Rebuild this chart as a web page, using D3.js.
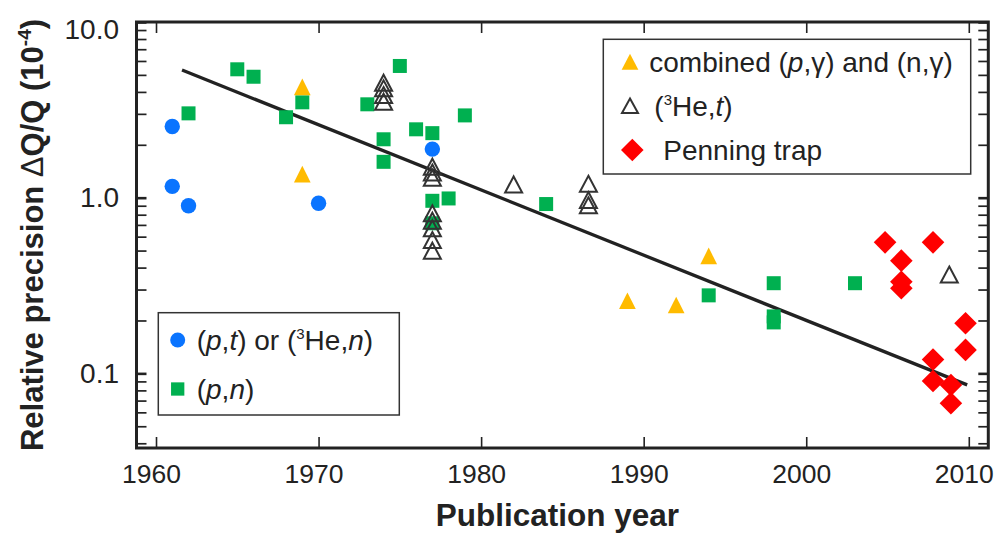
<!DOCTYPE html>
<html><head><meta charset="utf-8">
<script src="https://cdn.jsdelivr.net/npm/d3@7"></script>
<style>
html,body{margin:0;padding:0;background:#fff;}
svg{display:block;font-family:"Liberation Sans",Arial,Helvetica,sans-serif;}
</style></head><body>
<svg id="chart" width="995" height="533"></svg>
<script>
// ---------- data ----------
const xTickValues = [1960, 1970, 1980, 1990, 2000, 2010];
const yLabelValues = [0.1, 1, 10];
const yTickValues = [0.04,0.05,0.06,0.07,0.08,0.09,0.1,0.2,0.3,0.4,0.5,0.6,0.7,0.8,0.9,1,2,3,4,5,6,7,8,9,10];

// (p,t) or (3He,n)
const ptYears  = [1961, 1961, 1962, 1970, 1977];
const ptValues = [2.54, 1.16, 0.90, 0.93, 1.89];

// (p,n)
const pnYears  = [1962, 1965, 1966, 1968, 1969, 1973, 1975, 1974, 1974, 1976, 1977, 1979, 1977, 1978, 1977, 1984, 1994, 1998, 1998, 1998, 2003];
const pnValues = [3.02, 5.38, 4.88, 2.87, 3.49, 3.40, 5.62, 2.15, 1.60, 2.45, 2.33, 2.94, 0.96, 0.99, 0.715, 0.92, 0.278, 0.326, 0.211, 0.195, 0.326];

// combined (p,gamma) and (n,gamma)
const combYears  = [1969, 1969, 1989, 1992, 1994];
const combValues = [4.27, 1.36, 0.259, 0.245, 0.466];

// (3He,t)
const heYears  = [1974, 1974, 1974, 1974, 1977, 1977, 1977, 1977, 1977, 1977, 1977, 1977, 1982, 1986.6, 1986.6, 1986.6, 2008.8];
const heValues = [4.51, 4.19, 3.84, 3.52, 1.50, 1.39, 1.30, 0.815, 0.74, 0.67, 0.574, 0.499, 1.19, 1.20, 0.97, 0.905, 0.365];

// Penning trap
const penYears  = [2004.85, 2005.85, 2005.85, 2005.85, 2007.8, 2007.8, 2007.8, 2008.9, 2008.9, 2009.8, 2009.8];
const penValues = [0.557, 0.438, 0.332, 0.305, 0.557, 0.120, 0.0905, 0.0859, 0.0676, 0.193, 0.136];

// trend line
const trendYears  = [1961.6, 2009.9];
const trendValues = [5.33, 0.086];

// ---------- setup ----------
const svg = d3.select("#chart");
const X0 = 136.5, X1 = 988.3, Y0 = 22, Y1 = 448;
const x = d3.scaleLinear().domain([1958.8, 2011.2]).range([X0, X1]);
const y = d3.scaleLog().domain([0.0376, 10]).range([Y1, Y0]);
const ink = "#222";

const COL_BLUE = "#0a74ff", COL_GREEN = "#00b050", COL_YEL = "#ffbb00", COL_RED = "#ff0000";

const triPath = (w, h) => `M0,${-h/2}L${w/2},${h/2}L${-w/2},${h/2}Z`;
const diaPath = r => `M0,${-r}L${r},0L0,${r}L${-r},0Z`;
const sqPath = s => `M${-s/2},${-s/2}h${s}v${s}h${-s}Z`;

// ---------- axes ----------
function styleAxis(g){
  g.select(".domain").remove();
  g.selectAll(".tick line").attr("stroke", ink);
  g.selectAll(".tick text").attr("fill", ink);
}
const gBottom = svg.append("g").attr("transform",`translate(0,${Y1})`)
  .call(d3.axisBottom(x).tickValues(xTickValues).tickSize(-11).tickPadding(16).tickFormat(d3.format("d")))
  .call(styleAxis);
gBottom.selectAll(".tick line").attr("stroke-width", 1.6);
gBottom.selectAll(".tick text").attr("font-size", 26.5).attr("dx", -5)
  .attr("font-family", "Liberation Sans, Arial, sans-serif");

const gTop = svg.append("g").attr("transform",`translate(0,${Y0})`)
  .call(d3.axisTop(x).tickValues(xTickValues).tickSize(-11).tickFormat(""))
  .call(styleAxis);
gTop.selectAll(".tick line").attr("stroke-width", 1.6);

const fmtY = d => d === 10 ? "10.0" : d === 1 ? "1.0" : d === 0.1 ? "0.1" : "";
const gLeft = svg.append("g").attr("transform",`translate(${X0},0)`)
  .call(d3.axisLeft(y).tickValues(yTickValues).tickSize(-10).tickPadding(17.5).tickFormat(fmtY))
  .call(styleAxis);
gLeft.selectAll(".tick line").attr("stroke-width", d => yLabelValues.includes(d) ? 2.6 : 1.7);
gLeft.selectAll(".tick text").attr("font-size", 28).attr("font-family", "Liberation Sans, Arial, sans-serif");
gLeft.selectAll(".tick text").filter(d => d === 10).attr("y", 8);

const gRight = svg.append("g").attr("transform",`translate(${X1},0)`)
  .call(d3.axisRight(y).tickValues(yTickValues).tickSize(-10).tickFormat(""))
  .call(styleAxis);
gRight.selectAll(".tick line").attr("stroke-width", d => yLabelValues.includes(d) ? 2.6 : 1.7);

// frame
svg.append("rect").attr("x", X0).attr("y", Y0).attr("width", X1 - X0).attr("height", Y1 - Y0)
  .attr("fill", "none").attr("stroke", ink).attr("stroke-width", 3);

// ---------- titles ----------
svg.append("text").attr("x", (X0 + X1)/2 - 5).attr("y", 526).attr("text-anchor", "middle")
  .attr("font-size", 31.5).attr("font-weight", "bold").attr("fill", ink).text("Publication year");

const yt = svg.append("text").attr("transform", `translate(43,${(Y0+Y1)/2}) rotate(-90)`)
  .attr("text-anchor", "middle").attr("font-size", 31).attr("font-weight", "bold").attr("fill", ink);
yt.append("tspan").text("Relative precision ");
yt.append("tspan").attr("font-weight", "normal").text("Δ");
yt.append("tspan").text("Q/Q (10");
yt.append("tspan").attr("font-size", 19).attr("dy", -12).text("-4");
yt.append("tspan").attr("dy", 12).text(")");

// ---------- data marks ----------
const zip = (a, b) => a.map((v, i) => [v, b[i]]);

svg.append("path").datum(zip(trendYears, trendValues))
  .attr("d", d3.line().x(d => x(d[0])).y(d => y(d[1])))
  .attr("fill", "none").attr("stroke", ink).attr("stroke-width", 3.3);

const marks = svg.append("g");
marks.selectAll(".pn").data(zip(pnYears, pnValues)).join("path").attr("class","pn")
  .attr("transform", d => `translate(${x(d[0])},${y(d[1])})`).attr("d", sqPath(14)).attr("fill", COL_GREEN);
marks.selectAll(".comb").data(zip(combYears, combValues)).join("path").attr("class","comb")
  .attr("transform", d => `translate(${x(d[0])},${y(d[1])})`).attr("d", triPath(16.7, 16.7)).attr("fill", COL_YEL);
marks.selectAll(".he").data(zip(heYears, heValues)).join("path").attr("class","he")
  .attr("transform", d => `translate(${x(d[0])},${y(d[1])})`).attr("d", triPath(17, 16))
  .attr("fill", "none").attr("stroke", "#333").attr("stroke-width", 2);
marks.selectAll(".pt").data(zip(ptYears, ptValues)).join("circle").attr("class","pt")
  .attr("cx", d => x(d[0])).attr("cy", d => y(d[1])).attr("r", 7.7).attr("fill", COL_BLUE);
marks.selectAll(".pen").data(zip(penYears, penValues)).join("path").attr("class","pen")
  .attr("transform", d => `translate(${x(d[0])},${y(d[1])})`).attr("d", diaPath(11.3)).attr("fill", COL_RED);

// ---------- legends ----------
const lg1 = svg.append("g");
lg1.append("rect").attr("x", 603.3).attr("y", 39.3).attr("width", 367.4).attr("height", 134.7)
  .attr("fill", "#fff").attr("stroke", "#333").attr("stroke-width", 1.5);
lg1.append("path").attr("transform","translate(630,61.7)").attr("d", triPath(16.7,16)).attr("fill", COL_YEL);
lg1.append("path").attr("transform","translate(630,105.7)").attr("d", triPath(16,14.5))
  .attr("fill","none").attr("stroke","#333").attr("stroke-width",2);
lg1.append("path").attr("transform","translate(632.3,150)").attr("d", diaPath(11.3)).attr("fill", COL_RED);

function legendText(g, xx, yy, parts){
  const t = g.append("text").attr("x", xx).attr("y", yy).attr("dy", "0.36em")
    .attr("font-size", 28).attr("fill", ink);
  parts.forEach(p => {
    const s = t.append("tspan").text(p.t);
    if (p.i) s.attr("font-style", "italic");
    if (p.sup) s.attr("font-size", 15).attr("dy", -11);
    if (p.down) s.attr("dy", 11);
  });
  return t;
}
legendText(lg1, 649.3, 61.7, [{t:"combined ("},{t:"p",i:1},{t:",γ) and (n,γ)"}]);
legendText(lg1, 654.3, 105.7, [{t:"("},{t:"3",sup:1},{t:"He,",down:1},{t:"t",i:1},{t:")"}]);
legendText(lg1, 663.3, 150, [{t:"Penning trap"}]);

const lg2 = svg.append("g");
lg2.append("rect").attr("x", 158.3).attr("y", 312.7).attr("width", 241).attr("height", 102.3)
  .attr("fill", "#fff").attr("stroke", "#333").attr("stroke-width", 1.5);
lg2.append("circle").attr("cx", 177.7).attr("cy", 340).attr("r", 7.5).attr("fill", COL_BLUE);
lg2.append("path").attr("transform","translate(177.7,389)").attr("d", sqPath(13.3)).attr("fill", COL_GREEN);
legendText(lg2, 196.7, 340, [{t:"("},{t:"p",i:1},{t:","},{t:"t",i:1},{t:") or ("},{t:"3",sup:1},{t:"He,",down:1},{t:"n",i:1},{t:")"}]);
legendText(lg2, 196.7, 389, [{t:"("},{t:"p",i:1},{t:","},{t:"n",i:1},{t:")"}]);
</script>
</body></html>
